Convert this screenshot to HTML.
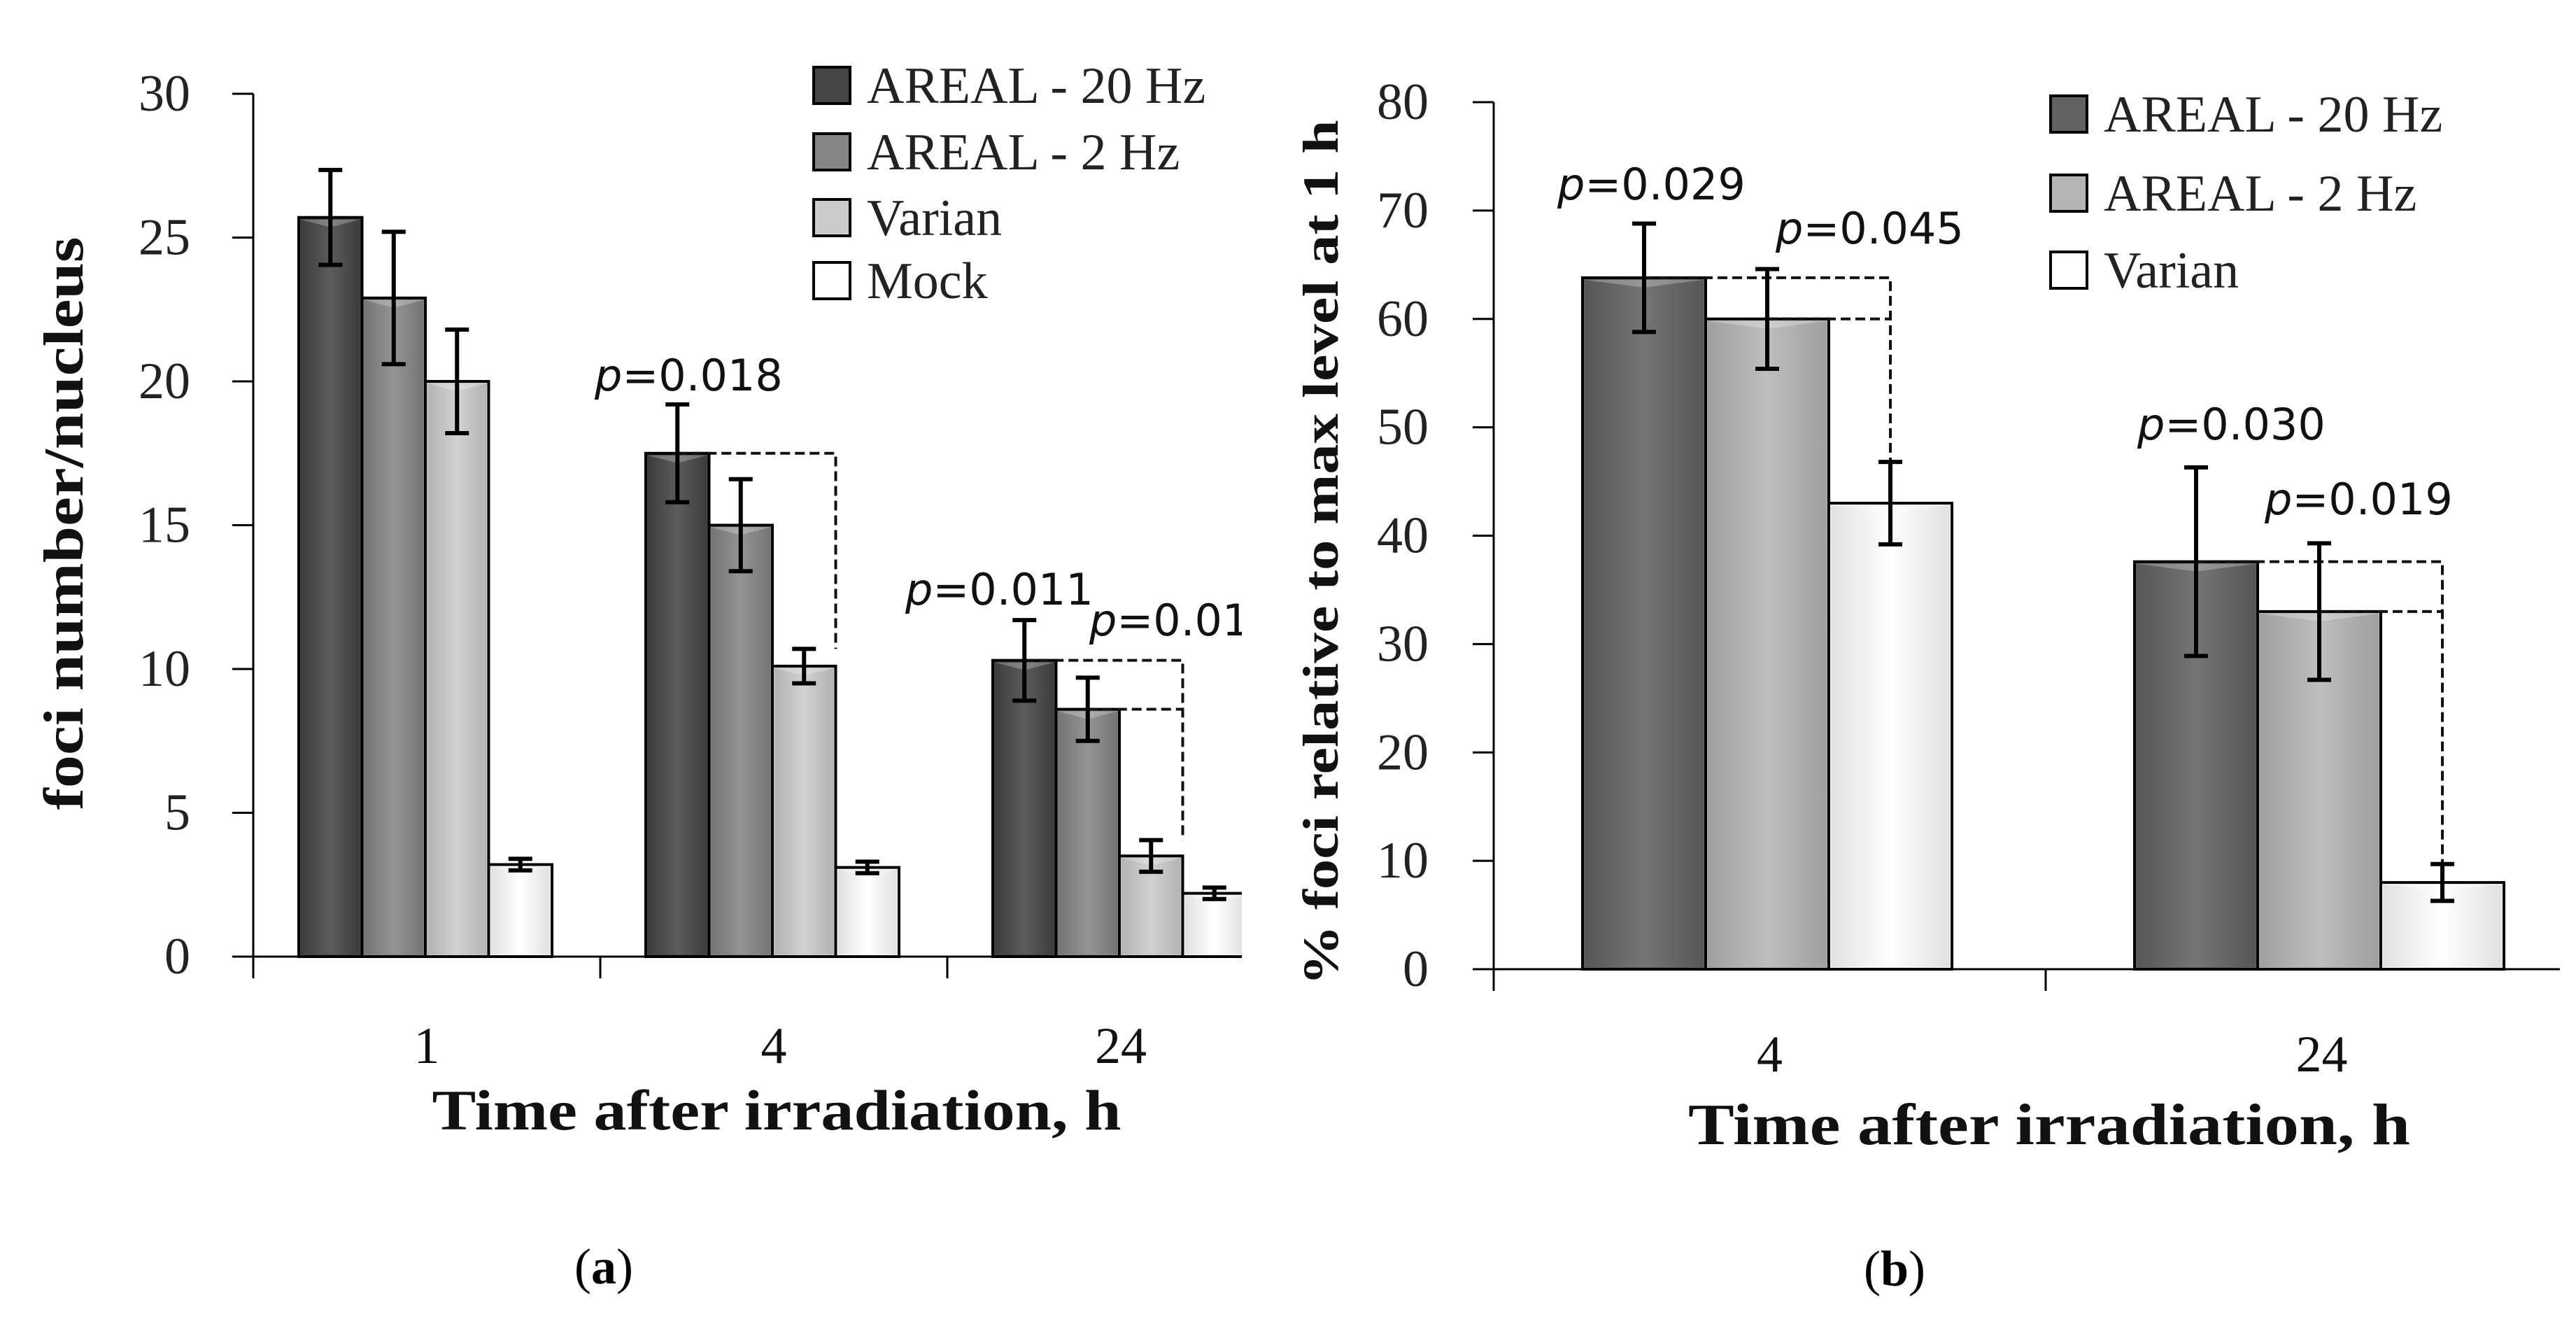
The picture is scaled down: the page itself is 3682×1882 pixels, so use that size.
<!DOCTYPE html>
<html><head><meta charset="utf-8"><style>
html,body{margin:0;padding:0;background:#fff;width:3682px;height:1882px;overflow:hidden}
svg{display:block}
.serif{font-family:"Liberation Serif",serif}
.sans{font-family:"DejaVu Sans","Liberation Sans",sans-serif}
</style></head><body>
<svg id="fig" width="3682" height="1882" viewBox="0 0 3682 1882" xmlns="http://www.w3.org/2000/svg">
<defs>
<clipPath id="clipA"><rect x="0" y="0" width="1775" height="1882"/></clipPath>
<linearGradient id="shade" x1="0" y1="0" x2="1" y2="0">
<stop offset="0" stop-color="#000" stop-opacity="0.12"/><stop offset="0.5" stop-color="#fff" stop-opacity="0.12"/><stop offset="1" stop-color="#000" stop-opacity="0.12"/>
</linearGradient>
</defs>
<g id="panelA" clip-path="url(#clipA)"></g>
<g id="panelB"></g>
</svg>
<script>
// Panel A data
const catsA = ["1","4","24"];
const seriesNamesA = ["AREAL - 20 Hz","AREAL - 2 Hz","Varian","Mock"];
const valsA20 = [25.7,17.5,10.3];
const valsA2 = [22.9,15.0,8.6];
const valsAVar = [20.0,10.1,3.5];
const valsAMock = [3.2,3.1,2.2];
const errA20 = [1.65,1.7,1.4];
const errA2 = [2.3,1.6,1.1];
const errAVar = [1.8,0.6,0.55];
const errAMock = [0.2,0.2,0.2];
const ticksA = [0,5,10,15,20,25,30];
// Panel B data
const catsB = ["4","24"];
const seriesNamesB = ["AREAL - 20 Hz","AREAL - 2 Hz","Varian"];
const valsB20 = [63.8,37.6];
const valsB2 = [60.0,33.0];
const valsBVar = [43.0,8.0];
const errB20 = [5.0,8.7];
const errB2 = [4.6,6.3];
const errBVar = [3.8,1.7];
const ticksB = [0,10,20,30,40,50,60,70,80];
const pA = ["p=0.018","p=0.011","p=0.016"];
const pB = ["0.029","0.045","0.030","0.019"];

const NS="http://www.w3.org/2000/svg";
function mk(parent,tag,attrs,text){const e=document.createElementNS(NS,tag);for(const k in attrs)e.setAttribute(k,attrs[k]);if(text!==undefined)e.textContent=text;parent.appendChild(e);return e;}

function pText(parent,x,y,val,size){
  const t=mk(parent,'text',{x:x,y:y,'font-size':size,'class':'sans',fill:'#111'});
  mk(t,'tspan',{'font-style':'italic'},'p');
  mk(t,'tspan',{},'='+val);
  return t;
}

function drawPanel(g,cfg){
  const y=v=>cfg.y0-(v-cfg.vmin)/(cfg.vmax-cfg.vmin)*(cfg.y0-cfg.ytop);
  const catX=i=>cfg.ax+i*cfg.catW;
  let e=mk(g,'line',{x1:cfg.ax,y1:y(cfg.vmax),x2:cfg.ax,y2:cfg.y0+31,stroke:'#000','stroke-width':3});
  
  cfg.ticks.forEach(t=>{
    const l=mk(g,'line',{x1:cfg.ax-30,y1:y(t),x2:cfg.ax,y2:y(t),stroke:'#000','stroke-width':3});
    
    const tx=mk(g,'text',{x:cfg.ax-cfg.labGap,y:y(t)+24,'font-size':74,'text-anchor':'end','class':'serif',fill:'#222'},String(t));
    
  });
  cfg.cats.forEach((c,i)=>{
    const l=mk(g,'line',{x1:catX(i),y1:cfg.y0,x2:catX(i),y2:cfg.y0+31,stroke:'#000','stroke-width':3});
    
    const tx=mk(g,'text',{x:catX(i)+cfg.catW/2,y:cfg.catLabY,'font-size':74,'text-anchor':'middle','class':'serif',fill:'#111'},c);
    
  });
  cfg.series.forEach((s,si)=>{
    s.vals.forEach((v,i)=>{
      const x=catX(i)+cfg.gOff+si*cfg.barW;
      const r=mk(g,'rect',{x:x,y:y(v),width:cfg.barW,height:cfg.y0-y(v),fill:s.color,stroke:'#000','stroke-width':4});
      
      mk(g,'rect',{x:x+3,y:y(v)+3,width:cfg.barW-6,height:Math.max(0,cfg.y0-y(v)-6),fill:'url(#shade)'});
      mk(g,'polygon',{points:`${x+3},${y(v)+3} ${x+cfg.barW-3},${y(v)+3} ${x+cfg.barW/2},${y(v)+14}`,fill:'#fff','fill-opacity':0.25});
    });
  });
  e=mk(g,'line',{x1:cfg.ax,y1:cfg.y0,x2:cfg.axEnd,y2:cfg.y0,stroke:'#000','stroke-width':3});
  
  cfg.brackets.forEach(b=>{
    const xs=catX(b.cat)+cfg.gOff+cfg.barW*b.from+cfg.barW/2;
    const xe=catX(b.cat)+cfg.gOff+cfg.barW*b.to+cfg.barW/2;
    const p=mk(g,'polyline',{points:`${xs},${y(b.v1)} ${xe},${y(b.v1)} ${xe},${y(b.v2)}`,fill:'none',stroke:'#111','stroke-width':4,'stroke-dasharray':b.dash||'14,7'});
    
  });
  cfg.series.forEach((s,si)=>{
    s.vals.forEach((v,i)=>{
      const cx=catX(i)+cfg.gOff+si*cfg.barW+cfg.barW/2;
      const hi=y(v+s.err[i]),lo=y(v-s.err[i]);
      const eb=mk(g,'path',{d:`M${cx},${hi}V${lo}M${cx-17},${hi}H${cx+17}M${cx-17},${lo}H${cx+17}`,stroke:'#000','stroke-width':6,fill:'none'});
      
    });
  });
  cfg.series.forEach((s,si)=>{
    const ly=cfg.legY[si];
    const r=mk(g,'rect',{x:cfg.legX,y:ly-26,width:52,height:52,fill:s.color,stroke:'#000','stroke-width':4});
    
    const t=mk(g,'text',{x:cfg.legX+76,y:ly+25,'font-size':74,'class':'serif',fill:'#222'},s.name);
    
  });
}

const gA=document.getElementById('panelA');
drawPanel(gA,{ax:362,axEnd:1775,y0:1367,ytop:134,vmin:0,vmax:30,catW:496,gOff:65,barW:90.5,labGap:90,catLabY:1519,
  ticks:ticksA,cats:catsA,
  series:[{key:'areal-20hz',name:seriesNamesA[0],vals:valsA20,err:errA20,color:'#454545'},
          {key:'areal-2hz',name:seriesNamesA[1],vals:valsA2,err:errA2,color:'#858585'},
          {key:'varian',name:seriesNamesA[2],vals:valsAVar,err:errAVar,color:'#cbcbcb'},
          {key:'mock',name:seriesNamesA[3],vals:valsAMock,err:errAMock,color:'#ffffff'}],
  brackets:[{cat:1,from:0,to:2.5,v1:valsA20[1],v2:valsAVar[1]+errAVar[1]},
            {cat:2,from:0,to:2.5,v1:valsA20[2],v2:valsAVar[2]+errAVar[2]},
            {cat:2,from:1,to:2.5,v1:valsA2[2],v2:valsA2[2]}],
  legX:1163,legY:[122,217,311,401]});
pText(gA,850,558,pA[0].slice(2),62);
pText(gA,1294,864,pA[1].slice(2),62);
pText(gA,1557,908,pA[2].slice(2),62);

const gB=document.getElementById('panelB');
drawPanel(gB,{ax:2135,axEnd:3659,y0:1385,ytop:146,vmin:0,vmax:80,catW:789,gOff:127,barW:176,labGap:93,catLabY:1531,
  ticks:ticksB,cats:catsB,
  series:[{key:'areal-20hz',name:seriesNamesB[0],vals:valsB20,err:errB20,color:'#626262'},
          {key:'areal-2hz',name:seriesNamesB[1],vals:valsB2,err:errB2,color:'#b5b5b5'},
          {key:'varian',name:seriesNamesB[2],vals:valsBVar,err:errBVar,color:'#ffffff'}],
  brackets:[{cat:0,from:0,to:2,v1:valsB20[0],v2:valsBVar[0]+errBVar[0]},
            {cat:0,from:1,to:2,v1:valsB2[0],v2:valsB2[0]},
            {cat:1,from:0,to:2,v1:valsB20[1],v2:valsBVar[1]+errBVar[1]},
            {cat:1,from:1,to:2,v1:valsB2[1],v2:valsB2[1]}],
  legX:2931,legY:[163,276,386]});
pText(gB,2226,285,pB[0],62);
pText(gB,2538,348,pB[1],62);
pText(gB,3055,628,pB[2],62);
pText(gB,3237,735,pB[3],62);

const svg=document.getElementById('fig');
let t;
t=mk(svg,'text',{x:0,y:0,transform:'translate(118,748) rotate(-90)','font-size':80,'font-weight':'bold','text-anchor':'middle','class':'serif',textLength:819,lengthAdjust:'spacingAndGlyphs',fill:'#111'},'foci number/nucleus');

t=mk(svg,'text',{x:1110,y:1614,'font-size':82,'font-weight':'bold','text-anchor':'middle','class':'serif',textLength:985,lengthAdjust:'spacingAndGlyphs',fill:'#111'},'Time after irradiation, h');

t=mk(svg,'text',{x:0,y:0,transform:'translate(1912,790) rotate(-90)','font-size':72,'font-weight':'bold','text-anchor':'middle','class':'serif',textLength:1237,lengthAdjust:'spacingAndGlyphs',fill:'#111'},'% foci relative to max level at 1 h');

t=mk(svg,'text',{x:2929,y:1635,'font-size':84,'font-weight':'bold','text-anchor':'middle','class':'serif',textLength:1032,lengthAdjust:'spacingAndGlyphs',fill:'#111'},'Time after irradiation, h');

t=mk(svg,'text',{x:863,y:1834,'font-size':72,'text-anchor':'middle','class':'serif',fill:'#000'});
mk(t,'tspan',{},'(');mk(t,'tspan',{'font-weight':'bold'},'a');mk(t,'tspan',{},')');

t=mk(svg,'text',{x:2708,y:1837,'font-size':72,'text-anchor':'middle','class':'serif',fill:'#000'});
mk(t,'tspan',{},'(');mk(t,'tspan',{'font-weight':'bold'},'b');mk(t,'tspan',{},')');

</script>
</body></html>
